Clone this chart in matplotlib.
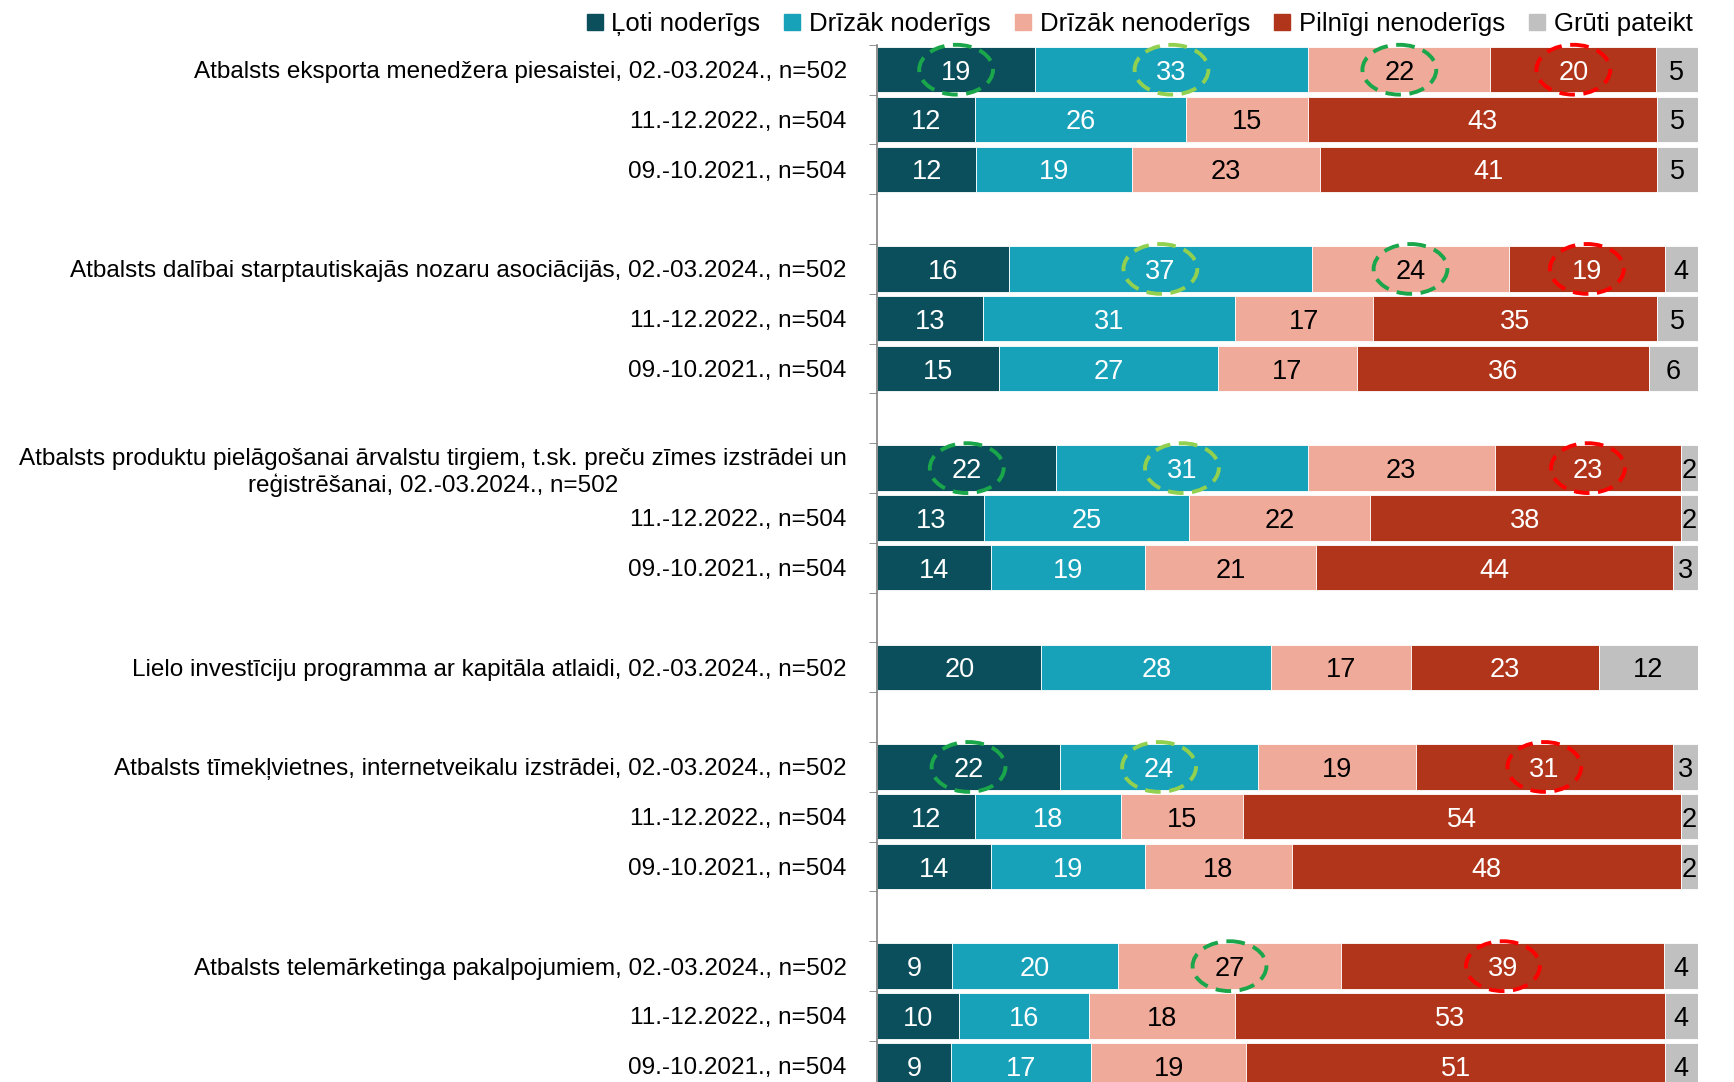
import numpy as np
import matplotlib
matplotlib.use("Agg")
from matplotlib import pyplot as plt
from matplotlib.patches import Ellipse
from matplotlib.lines import Line2D

plt.rcParams['font.family'] = ['Liberation Sans', 'DejaVu Sans']

# categories (top to bottom), "" = empty spacer row
labels = [
    "Atbalsts eksporta menedžera piesaistei, 02.-03.2024., n=502",
    "11.-12.2022., n=504",
    "09.-10.2021., n=504",
    "",
    "Atbalsts dalībai starptautiskajās nozaru asociācijās, 02.-03.2024., n=502",
    "11.-12.2022., n=504",
    "09.-10.2021., n=504",
    "",
    "Atbalsts produktu pielāgošanai ārvalstu tirgiem, t.sk. preču zīmes izstrādei un\nreģistrēšanai, 02.-03.2024., n=502",
    "11.-12.2022., n=504",
    "09.-10.2021., n=504",
    "",
    "Lielo investīciju programma ar kapitāla atlaidi, 02.-03.2024., n=502",
    "",
    "Atbalsts tīmekļvietnes, internetveikalu izstrādei, 02.-03.2024., n=502",
    "11.-12.2022., n=504",
    "09.-10.2021., n=504",
    "",
    "Atbalsts telemārketinga pakalpojumiem, 02.-03.2024., n=502",
    "11.-12.2022., n=504",
    "09.-10.2021., n=504",
]

series_names = ["Ļoti noderīgs", "Drīzāk noderīgs", "Drīzāk nenoderīgs",
                "Pilnīgi nenoderīgs", "Grūti pateikt"]

nan = np.nan
loti      = [19, 12, 12, nan, 16, 13, 15, nan, 22, 13, 14, nan, 20, nan, 22, 12, 14, nan, 9, 10, 9]
drizak    = [33, 26, 19, nan, 37, 31, 27, nan, 31, 25, 19, nan, 28, nan, 24, 18, 19, nan, 20, 16, 17]
drizak_ne = [22, 15, 23, nan, 24, 17, 17, nan, 23, 22, 21, nan, 17, nan, 19, 15, 18, nan, 27, 18, 19]
pilnigi   = [20, 43, 41, nan, 19, 35, 36, nan, 23, 38, 44, nan, 23, nan, 31, 54, 48, nan, 39, 53, 51]
gruti     = [5, 5, 5, nan, 4, 5, 6, nan, 2, 2, 3, nan, 12, nan, 3, 2, 2, nan, 4, 4, 4]

# highlighted values: (row, series index, colour)
highlights = [
    (0, 0, '#1aa64a'), (0, 1, '#92d050'), (0, 2, '#1aa64a'), (0, 3, '#ff0000'),
    (4, 1, '#92d050'), (4, 2, '#1aa64a'), (4, 3, '#ff0000'),
    (8, 0, '#1aa64a'), (8, 1, '#92d050'), (8, 3, '#ff0000'),
    (14, 0, '#1aa64a'), (14, 1, '#92d050'), (14, 3, '#ff0000'),
    (18, 2, '#1aa64a'), (18, 3, '#ff0000'),
]

colors = ['#0c4f5c', '#17a2ba', '#f0aa9a', '#b0351a', '#c0c0c0']
text_colors = ['white', 'white', 'black', 'white', 'black']

data = np.array([loti, drizak, drizak_ne, pilnigi, gruti], dtype=float)
totals = np.nansum(data, axis=0)
shares = data / np.where(totals == 0, 1, totals) * 100  # stretch each row to 100%
y = np.arange(len(labels))

fig = plt.figure(figsize=(17.34, 10.82), dpi=100)
ax = fig.add_axes([0.506, -0.008, 0.473, 0.9666])

left = np.zeros(len(labels))
centers = np.zeros_like(shares)
for i in range(5):
    w = np.nan_to_num(shares[i])
    ax.barh(y, w, left=left, height=0.91, color=colors[i], edgecolor='white', linewidth=0.6)
    centers[i] = left + w / 2
    for j in range(len(labels)):
        if not np.isnan(data[i, j]):
            ax.text(centers[i, j], y[j], "%d" % data[i, j], ha='center', va='center_baseline',
                    fontsize=19.5, color=text_colors[i])
    left = left + w

for row, s, c in highlights:
    ax.add_patch(Ellipse((centers[s, row], y[row]), width=9.0, height=1.0, fill=False,
                         edgecolor=c, linewidth=2.8, linestyle=(0, (4, 2.2)), clip_on=False))

ax.set_xlim(0, 100)
ax.set_ylim(len(labels) - 0.5, -0.5)
ax.set_yticks(y)
ax.set_yticklabels(labels, fontsize=17.5, multialignment='center')
ax.set_yticks(np.arange(len(labels) + 1) - 0.5, minor=True)
ax.tick_params(axis='y', which='major', length=0, pad=22)
ax.tick_params(axis='y', which='minor', length=6, color='#808080', direction='out')
ax.set_xticks([])
for side in ['top', 'right', 'bottom']:
    ax.spines[side].set_visible(False)
ax.spines['left'].set_color('#808080')
ax.spines['left'].set_linewidth(1.2)

handles = [Line2D([], [], marker='s', linestyle='', markersize=12, color=c) for c in colors]
fig.legend(handles, series_names, loc='upper left', bbox_to_anchor=(0.337, 0.989), ncol=5,
           frameon=False, fontsize=18.5, handletextpad=0.25, columnspacing=0.85, handlelength=0.8,
           borderpad=0, borderaxespad=0)

fig.savefig('out.png', dpi=100)
